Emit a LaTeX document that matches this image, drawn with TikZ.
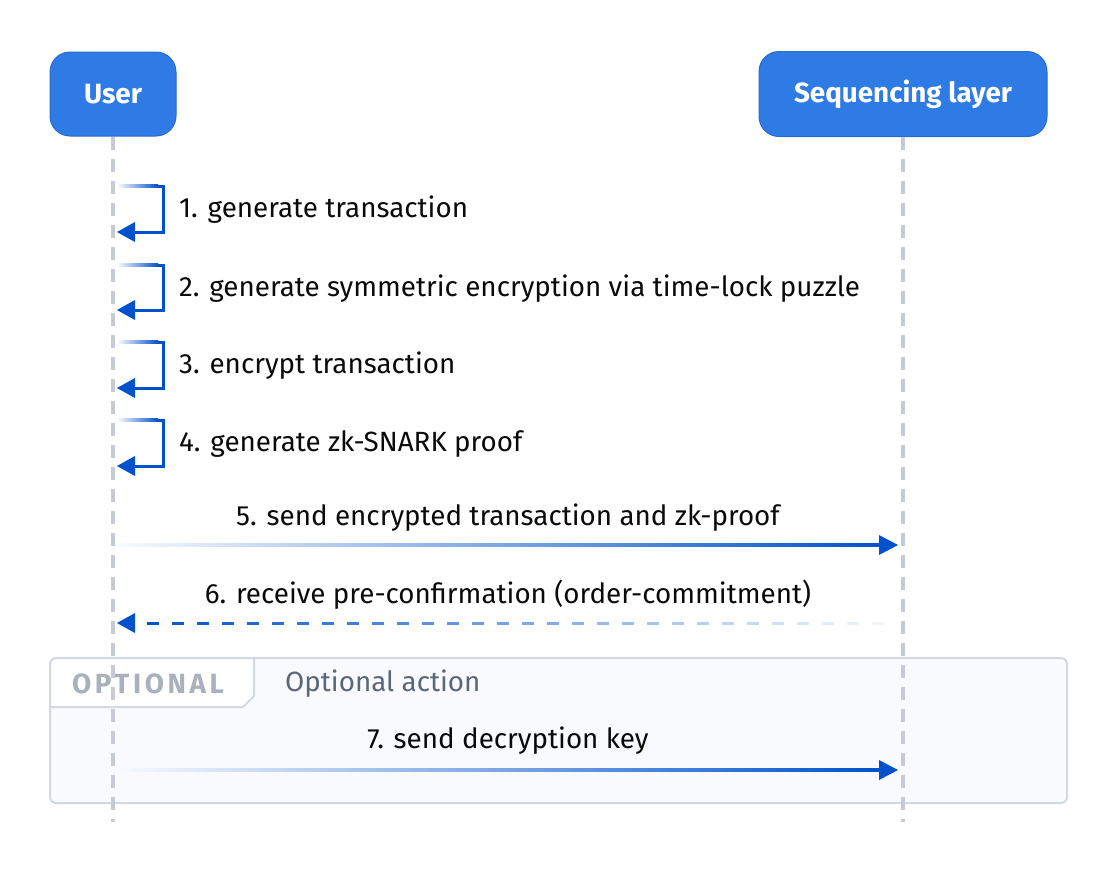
\documentclass[tikz,border=0pt]{standalone}
\usepackage{fontspec}
\setmainfont{Fira Sans}
\usetikzlibrary{arrows.meta}
\definecolor{hdr}{HTML}{2E7BE6}
\definecolor{hdrdark}{HTML}{2A6CCB}
\definecolor{arrowc}{HTML}{0052CC}
\definecolor{lifec}{HTML}{C5CAD3}
\definecolor{optfill}{HTML}{F8FAFE}
\definecolor{optborder}{HTML}{D3D9E2}
\definecolor{opttag}{HTML}{AAB1BC}
\definecolor{optlabel}{HTML}{5B6779}
\definecolor{txt}{HTML}{0A0A0A}
\tikzset{
  header/.style={draw=hdrdark, line width=1, fill=hdr, rounded corners=20,
    text=white, font=\fontsize{27.8}{32}\selectfont\bfseries, inner sep=0},
  lifeline/.style={draw=lifec, line width=3.5, dash pattern=on 13 off 9},
  msglabel/.style={text=txt, font=\fontsize{27.8}{32}\selectfont, inner sep=0},
  selflabel/.style={msglabel, anchor=west},
  arrowline/.style={draw=arrowc, line width=3},
}
\begin{document}
\begin{tikzpicture}[x=1pt,y=-1pt]
\useasboundingbox (0,0) rectangle (1117,884);
% optional frame
\fill[optfill, rounded corners=6] (50,658) rectangle (1067,803);
\fill[white, rounded corners=6] (50,658) -- (254,658) -- (254,696) -- (243,707) -- (50,707) -- cycle;
\draw[optborder, line width=2] (254,658) -- (254,696) -- (243,707) -- (50,707);
\draw[optborder, line width=2, rounded corners=6] (50,658) rectangle (1067,803);
\node[text=opttag, font=\fontsize{27.8}{32}\selectfont\bfseries\addfontfeature{LetterSpace=13}, inner sep=0] (opttag) at (148,684) {OPTIONAL};
\node[text=optlabel, font=\fontsize{27.8}{32}\selectfont, inner sep=0, anchor=west] (optlabel) at (285,684) {Optional action};
% headers
\node[header, minimum width=126, minimum height=84] (user) at (113,94) {User};
\node[header, minimum width=288, minimum height=85] (seq) at (903,94) {Sequencing layer};
% lifelines
\coordinate (userend) at (113,822);
\coordinate (seqend) at (903,822);
\draw[lifeline] (user.south) -- (userend);
\draw[lifeline] (seq.south) -- (seqend);
% self messages
\foreach \ty/\by/\lab [count=\n] in {186/232/{1. generate transaction},
  265/310/{2. generate symmetric encryption via time-lock puzzle},
  342/388/{3. encrypt transaction},
  420/466/{4. generate zk-SNARK proof}}{
  \coordinate (s\n a) at (118,\ty);
  \coordinate (s\n b) at (163,\ty);
  \coordinate (s\n c) at (163,\by);
  \coordinate (s\n d) at (117,\by);
  \shade[left color=arrowc!3!white, right color=arrowc] (118,\ty-1.5) rectangle (158,\ty+1.5);
  \draw[arrowline] (158,\ty) -- (s\n b) -- (s\n c) -- (134,\by);
  \fill[arrowc] (s\n d) -- (135,\by-10) -- (135,\by+10) -- cycle;
  \node[selflabel] (l\n) at (179,{(\ty+\by)/2+1}) {\lab};
}
% message 5
\coordinate (m5s) at (120,545);
\coordinate (m5e) at (898,545);
\shade[left color=arrowc!3!white, right color=arrowc] (120,543.5) rectangle (881,546.5);
\fill[arrowc] (m5e) -- (879,535) -- (879,555) -- cycle;
\node[msglabel] (l5) at (508,518) {5. send encrypted transaction and zk-proof};
% message 6 (dashed, fading to the right)
\coordinate (m6s) at (897,623);
\coordinate (m6e) at (117,623);
\fill[arrowc] (m6e) -- (135,613) -- (135,633) -- cycle;
\foreach \i in {0,...,29}{
  \pgfmathsetmacro{\xa}{147+25*\i}
  \pgfmathtruncatemacro{\pc}{100-(\xa-147)/(872-147)*94}
  \draw[draw=arrowc!\pc!white, line width=3] (\xa,623) -- (\xa+12,623);
}
\node[msglabel] (l6) at (508,595) {6. receive pre-confirmation (order-commitment)};
% message 7
\coordinate (m7s) at (120,770);
\coordinate (m7e) at (898,770);
\shade[left color=arrowc!3!white, right color=arrowc] (120,768.5) rectangle (881,771.5);
\fill[arrowc] (m7e) -- (879,760) -- (879,780) -- cycle;
\node[msglabel] (l7) at (508,741) {7. send decryption key};
\end{tikzpicture}
\end{document}
